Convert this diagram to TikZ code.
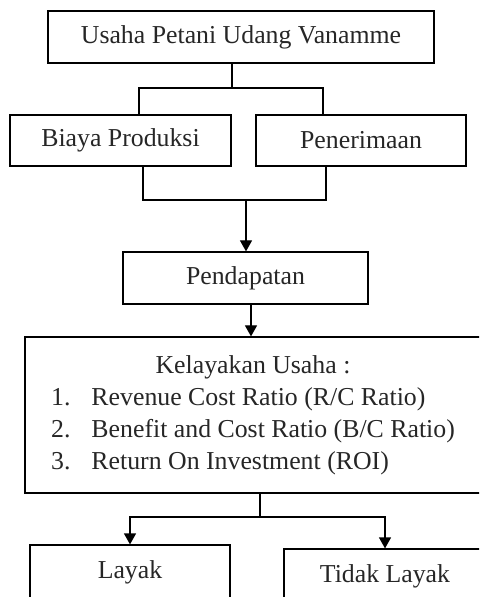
\documentclass[tikz,border=0pt]{standalone}
\usepackage{fontspec}
\setmainfont{Liberation Serif}
\usetikzlibrary{arrows.meta}
\tikzset{
    box/.style={draw, line width=0.6pt, inner sep=0pt, text=black!85},
    arr/.style={-{Triangle[length=5.5pt,width=6pt]}},
}
\begin{document}
\begin{tikzpicture}[x=0.5pt, y=-0.5pt, line width=0.6pt, font=\fontsize{12.9}{16}\selectfont]
\clip (0,0) rectangle (479,597);
\useasboundingbox (0,0) rectangle (479,597);
% kotak
\node[box, minimum width=193pt, minimum height=26pt] (usaha) at (241,37) {Usaha Petani Udang Vanamme};
\node[box, minimum width=110.5pt, minimum height=25.5pt] (biaya) at (120.5,140.5) {Biaya Produksi};
\node[box, minimum width=105pt, minimum height=25.5pt] (terima) at (361,140.5) {Penerimaan};
\node[box, minimum width=122.5pt, minimum height=26pt] (pendapatan) at (245.5,278) {Pendapatan};
\node[box, minimum width=228pt, minimum height=78pt] (layakusaha) at (253,415) {%
    \begin{tabular}{@{}l@{\hspace{10.5pt}}l@{}}
    \multicolumn{2}{c}{Kelayakan Usaha :}\\
    1. & Revenue Cost Ratio (R/C Ratio)\\
    2. & Benefit and Cost Ratio (B/C Ratio)\\
    3. & Return On Investment (ROI)
    \end{tabular}};
\node[box, minimum width=100pt, minimum height=27pt] (layak) at (130,572) {Layak};
\node[box, minimum width=101pt, minimum height=27pt] (tidak) at (385,576) {Tidak Layak};
% garis
\coordinate (a) at (232,88);
\coordinate (al) at (139,88);
\coordinate (ar) at (323,88);
\coordinate (bl) at (143,200);
\coordinate (br) at (326,200);
\coordinate (b) at (246,200);
\coordinate (c) at (260,517);
\draw (usaha.south -| a) -- (a);
\draw (al |- biaya.north) -- (al) -- (ar) -- (ar |- terima.north);
\draw (bl |- biaya.south) -- (bl) -- (br) -- (br |- terima.south);
\draw[arr] (b) -- (b |- pendapatan.north);
\draw[arr] (pendapatan.south -| 251,0) -- (layakusaha.north -| 251,0);
\draw (layakusaha.south -| c) -- (c);
\draw[arr] (c) -| (layak.north);
\draw[arr] (c) -| (tidak.north);
\end{tikzpicture}
\end{document}
